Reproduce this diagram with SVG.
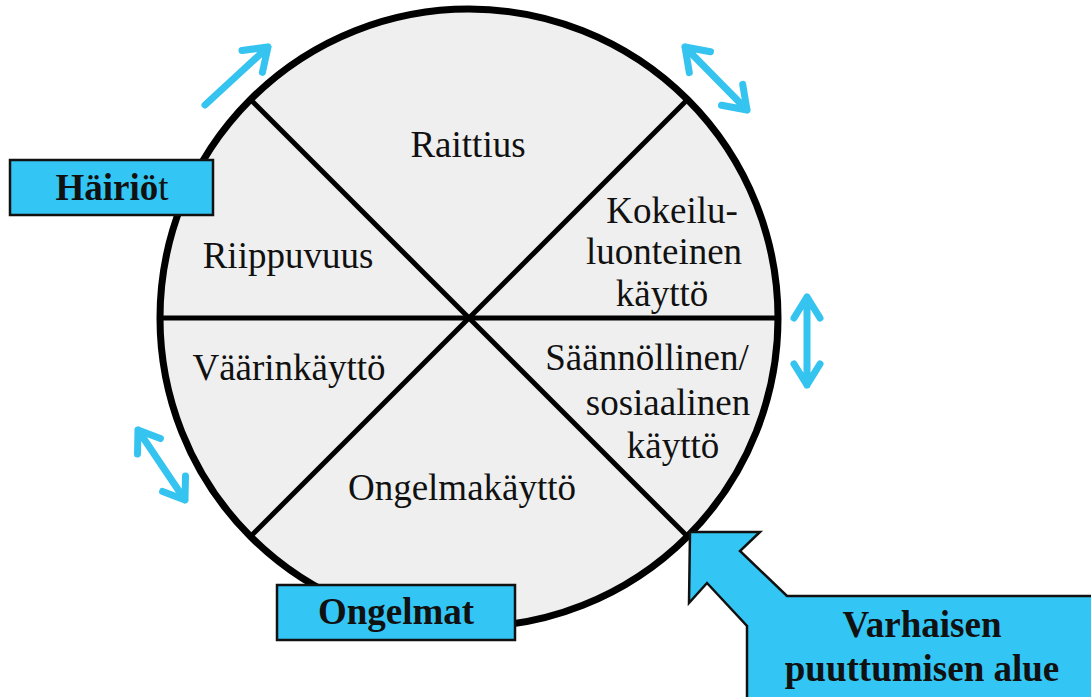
<svg xmlns="http://www.w3.org/2000/svg" width="1091" height="697" viewBox="0 0 1091 697">
<style>
.lbl{font-family:"Liberation Serif","Times New Roman",serif;font-size:37px;fill:#111;text-anchor:middle}
.box{fill:#33c6f4;stroke:#111;stroke-width:2.5}
.btxt{font-family:"Liberation Serif","Times New Roman",serif;font-size:37px;font-weight:bold;fill:#111;text-anchor:middle}
.arr{fill:none;stroke:#35c3ef;stroke-width:7;stroke-linecap:round;stroke-linejoin:round}
.div{stroke:#000;stroke-width:5}
</style>
<rect width="1091" height="697" fill="#fff"/>
<g id="wheel">
<circle cx="469" cy="318" r="309" fill="#efefef" stroke="#000" stroke-width="7"/>
<line class="div" x1="160" y1="318" x2="778" y2="318"/>
<line class="div" x1="250.5" y1="99.5" x2="687.5" y2="536.5"/>
<line class="div" x1="687.5" y1="99.5" x2="250.5" y2="536.5"/>
</g>
<g id="segments">
<text class="lbl" x="468" y="157">Raittius</text>
<text class="lbl" x="672" y="223">Kokeilu-</text>
<text class="lbl" x="664" y="264">luonteinen</text>
<text class="lbl" x="662" y="306">käyttö</text>
<text class="lbl" x="288" y="268">Riippuvuus</text>
<text class="lbl" x="289" y="380">Väärinkäyttö</text>
<text class="lbl" x="647" y="370">Säännöllinen/</text>
<text class="lbl" x="668" y="415">sosiaalinen</text>
<text class="lbl" x="673" y="458">käyttö</text>
<text class="lbl" x="462" y="500">Ongelmakäyttö</text>
</g>
<g id="connectors">
<path class="arr" d="M205,105 L268,47 M242,50.5 L268,47 L262.4,72.4"/>
<path class="arr" d="M685,47 L747,110 M689.3,72.6 L685,47 L710.5,51.7 M742.7,84.4 L747,110 L721.5,105.3"/>
<path class="arr" d="M807,297 L807,385 M794,318 L807,297 L820,318 M794,364 L807,385 L820,364"/>
<path class="arr" d="M138,430 L185,500 M137.5,454 L138,430 L160.4,438.6 M185.5,476 L185,500 L162.6,491.4"/>
</g>
<g id="hairiot">
<rect class="box" x="10" y="160" width="203" height="55"/>
<text class="btxt" x="112" y="200">Häiriö<tspan font-weight="normal">t</tspan></text>
</g>
<g id="ongelmat">
<rect class="box" x="277" y="585" width="238" height="55"/>
<text class="btxt" x="396" y="624">Ongelmat</text>
</g>
<g id="varhaisen">
<path class="box" stroke-width="3" d="M690,532 L760,532 L740,551 L787,596 L1095,596 L1095,700 L747,700 L747,626 L707,583 L689,603 Z"/>
<text class="btxt" x="922" y="637">Varhaisen</text>
<text class="btxt" x="922" y="681">puuttumisen alue</text>
</g>
</svg>
